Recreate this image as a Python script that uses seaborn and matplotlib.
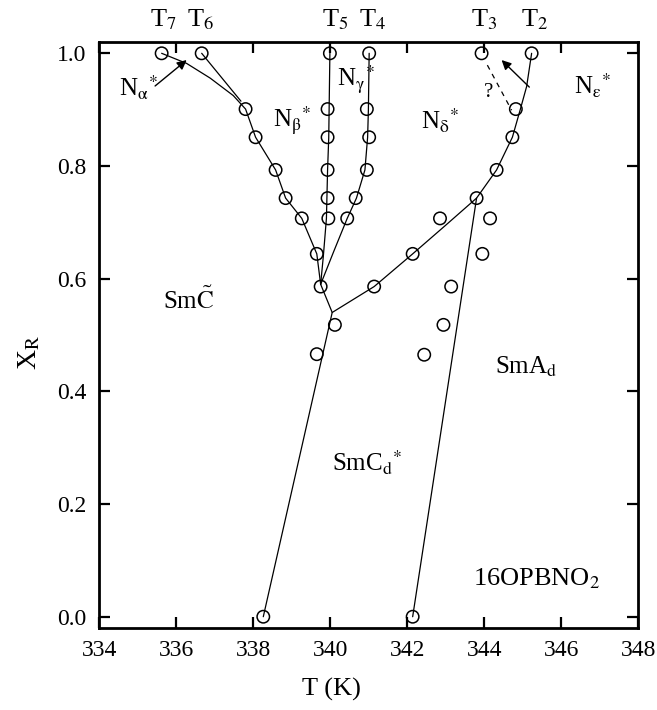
import numpy as np
import pandas as pd
import matplotlib
matplotlib.use("Agg")
import matplotlib.pyplot as plt
import seaborn as sns

# ---------------- data ----------------
# measured transition points (T in K, X_R)
pts_T = [335.62, 336.66, 339.99, 341.01, 343.93, 345.23,
         337.80, 338.06, 338.58, 338.84, 339.26, 339.65, 339.75,
         339.93, 339.93, 339.93, 339.93, 339.95,
         340.95, 341.01, 340.95, 340.66, 340.44,
         344.82, 344.73, 344.32, 343.80, 342.85, 342.14, 341.14, 340.12,
         344.15, 343.95, 343.14, 342.94, 342.44, 339.65,
         338.26, 342.14]
pts_X = [1.0, 1.0, 1.0, 1.0, 1.0, 1.0,
         0.901, 0.851, 0.793, 0.743, 0.707, 0.644, 0.586,
         0.901, 0.851, 0.793, 0.743, 0.707,
         0.901, 0.851, 0.793, 0.743, 0.707,
         0.901, 0.851, 0.793, 0.743, 0.707, 0.644, 0.586, 0.518,
         0.707, 0.644, 0.586, 0.518, 0.465, 0.466,
         0.0, 0.0]

# phase boundary lines (vertices)
t7_T = [335.62, 336.27, 336.88, 337.48, 337.80, 338.06, 338.58, 338.84, 339.26, 339.65, 339.75]
t7_X = [1.0, 0.982, 0.956, 0.925, 0.901, 0.851, 0.793, 0.743, 0.707, 0.644, 0.59]
t6_T = [336.66, 337.68]
t6_X = [1.0, 0.915]
t5_T = [339.99, 339.96, 339.93, 339.90, 339.82, 339.75]
t5_X = [1.0, 0.85, 0.793, 0.707, 0.64, 0.59]
t4_T = [341.01, 340.99, 340.97, 340.90, 340.68, 340.44, 340.10, 339.75]
t4_X = [1.0, 0.9, 0.851, 0.793, 0.743, 0.707, 0.65, 0.59]
low_T = [339.75, 340.05, 338.26]
low_X = [0.59, 0.54, 0.0]
t2_T = [340.05, 341.14, 342.14, 343.00, 343.80, 344.32, 344.73, 344.93, 345.10, 345.23]
t2_X = [0.54, 0.586, 0.644, 0.695, 0.743, 0.793, 0.851, 0.899, 0.941, 1.0]
sma_T = [342.14, 343.80]
sma_X = [0.0, 0.743]
q_T = [344.08, 344.71]
q_X = [0.979, 0.899]

x_ticks = [334, 336, 338, 340, 342, 344, 346, 348]
y_ticks = [0.0, 0.2, 0.4, 0.6, 0.8, 1.0]
y_tick_labels = ["0.0", "0.2", "0.4", "0.6", "0.8", "1.0"]

# ---------------- style ----------------
sns.set_style("ticks", {"axes.edgecolor": "black", "text.color": "black",
                        "xtick.color": "black", "ytick.color": "black",
                        "axes.labelcolor": "black"})
plt.rcParams["font.family"] = ["Liberation Serif", "DejaVu Serif"]
plt.rcParams["mathtext.fontset"] = "stix"

fig = plt.figure(figsize=(6.57, 7.10), dpi=100)
ax = fig.add_axes([0.1511, 0.1159, 0.8204, 0.8249])

lw = 0.9
for lt, lx in [(t7_T, t7_X), (t6_T, t6_X), (t5_T, t5_X), (t4_T, t4_X),
               (low_T, low_X), (t2_T, t2_X), (sma_T, sma_X)]:
    df = pd.DataFrame({"T": lt, "X": lx})
    sns.lineplot(data=df, x="T", y="X", sort=False, estimator=None,
                 color="black", linewidth=lw, ax=ax)
dq = pd.DataFrame({"T": q_T, "X": q_X})
sns.lineplot(data=dq, x="T", y="X", sort=False, estimator=None,
             color="black", linewidth=lw, ax=ax, dashes=False)
ax.lines[-1].set_linestyle((0, (4, 4)))

dp = pd.DataFrame({"T": pts_T, "X": pts_X})
sns.scatterplot(data=dp, x="T", y="X", marker="o", s=80,
                facecolors="none", edgecolor="black", linewidth=1.1,
                ax=ax, zorder=5)

ax.set_xlim(334, 348)
ax.set_ylim(-0.0195, 1.02)
ax.set_xticks(x_ticks)
ax.set_yticks(y_ticks)
ax.set_yticklabels(y_tick_labels)
ax.tick_params(direction="in", top=True, right=True, length=8, width=1.6,
               labelsize=17, pad=9, colors="black")
for sp in ax.spines.values():
    sp.set_linewidth(2.0)
    sp.set_color("black")
    sp.set_visible(True)

ax.set_xlabel("T (K)", fontsize=19, va="center", color="black")
ax.xaxis.set_label_coords(0.43, -0.106)
ax.set_ylabel(r"X$_{\mathrm{R}}$", fontsize=20, va="center", color="black")
ax.yaxis.set_label_coords(-0.13, 0.47)

# top T labels
for txt, tx in [("7", 335.32), ("6", 336.27), ("5", 339.78),
                ("4", 340.75), ("3", 343.65), ("2", 344.95)]:
    ax.text(tx, 1.047, r"T$_{%s}$" % txt, fontsize=19, ha="left",
            va="baseline", clip_on=False, color="black")

fs = 18
kw = dict(ha="left", va="baseline", color="black")
ax.text(334.5, 0.923, r"N$_{\mathrm{\alpha}}$$^{*}$", fontsize=fs, **kw)
ax.text(338.52, 0.870, r"N$_{\mathrm{\beta}}$$^{*}$", fontsize=fs, **kw)
ax.text(340.17, 0.942, r"N$_{\mathrm{\gamma}}$$^{*}$", fontsize=fs, **kw)
ax.text(342.35, 0.864, r"N$_{\mathrm{\delta}}$$^{*}$", fontsize=fs, **kw)
ax.text(346.33, 0.926, r"N$_{\mathrm{\varepsilon}}$$^{*}$", fontsize=fs, **kw)
ax.text(343.99, 0.923, "?", fontsize=15, **kw)
ax.text(335.66, 0.547, r"Sm$\tilde{\mathrm{C}}$", fontsize=fs, **kw)
ax.text(344.28, 0.432, r"SmA$_{\mathrm{d}}$", fontsize=fs, **kw)
ax.text(340.04, 0.257, r"SmC$_{\mathrm{d}}$$^{*}$", fontsize=fs, **kw)
ax.text(343.72, 0.056, r"16OPBNO$_{2}$", fontsize=19, **kw)

arrow = dict(arrowstyle="-|>", color="black", lw=1.0, mutation_scale=14,
             shrinkA=0, shrinkB=0)
ax.annotate("", xy=(336.27, 0.988), xytext=(335.45, 0.942), arrowprops=arrow)
ax.annotate("", xy=(344.45, 0.988), xytext=(345.17, 0.94), arrowprops=arrow)

fig.savefig("out.png", dpi=100)
